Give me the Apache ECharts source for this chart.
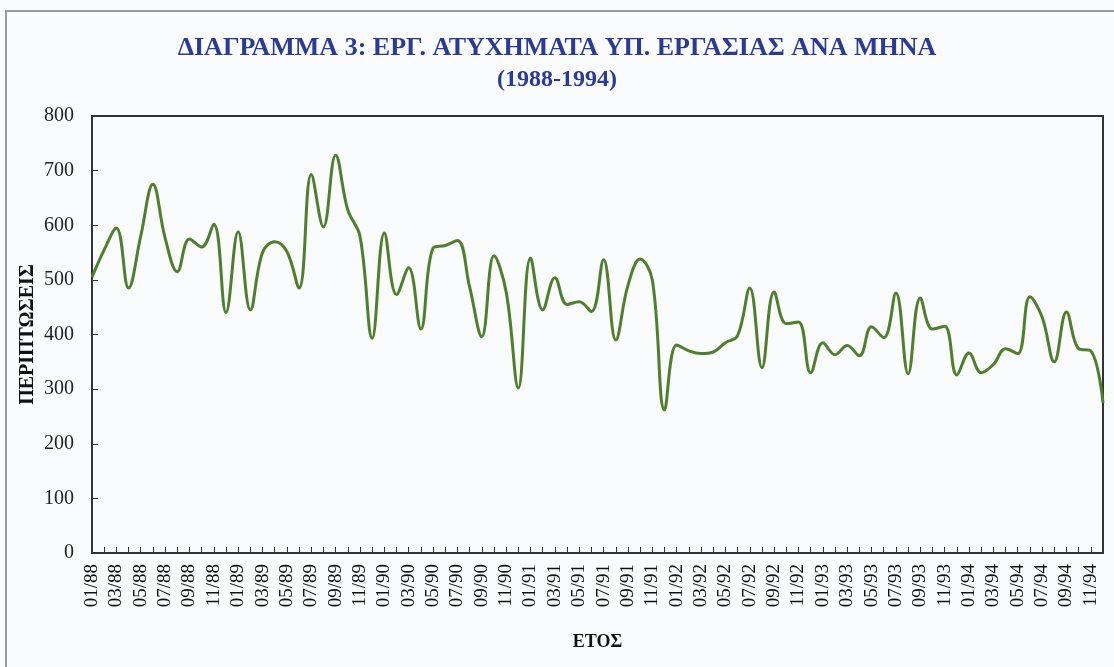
<!DOCTYPE html>
<html>
<head>
<meta charset="utf-8">
<script src="https://cdn.jsdelivr.net/npm/echarts@6/dist/echarts.min.js"></script>
<style>
html,body{margin:0;padding:0;background:#f9fbfc;}
#chart{width:1114px;height:667px;}
</style>
</head>
<body>
<div id="chart"></div>
<script>
const years = ['88','89','90','91','92','93','94'];
const categories = [];
years.forEach(function(y){ for (let m = 1; m <= 12; m++) categories.push((m < 10 ? '0' + m : '' + m) + '/' + y); });

const accidents = [
  505, 555, 595, 485, 580, 675, 577, 515, 575, 560, 602, 440,
  588, 445, 550, 570, 552, 485, 693, 597, 728, 628, 580, 393,
  586, 473, 522, 410, 558, 563, 572, 487, 396, 544, 478, 302,
  540, 445, 504, 455, 460, 442, 537, 390, 490, 538, 500, 262,
  381, 370, 365, 368, 385, 398, 485, 339, 478, 420, 423, 330,
  385, 363, 380, 361, 414, 394, 476, 328, 467, 410, 415, 326,
  366, 330, 345, 374, 365, 469, 432, 350, 441, 374, 370, 275
];

const titleText = 'ΔΙΑΓΡΑΜΜΑ 3: ΕΡΓ. ΑΤΥΧΗΜΑΤΑ ΥΠ. ΕΡΓΑΣΙΑΣ ΑΝΑ ΜΗΝΑ';
const subtitleText = '(1988-1994)';
const yName = 'ΠΕΡΙΠΤΩΣΕΙΣ';
const xName = 'ΕΤΟΣ';

const chart = echarts.init(document.getElementById('chart'));
chart.setOption({
  backgroundColor: '#f9fbfc',
  animation: false,
  title: {
    text: titleText,
    subtext: subtitleText,
    left: 'center',
    top: 30,
    itemGap: 7,
    textStyle: { fontFamily: 'Liberation Serif', fontWeight: 'bold', fontSize: 26, color: '#2b3a96' },
    subtextStyle: { fontFamily: 'Liberation Serif', fontWeight: 'bold', fontSize: 24, color: '#2b3a96' }
  },
  graphic: [{
    type: 'rect',
    shape: { x: 6, y: 11, width: 1200, height: 800 },
    style: { fill: 'none', stroke: '#9a9a9a', lineWidth: 2 },
    silent: true
  }],
  grid: { left: 92, right: 11, top: 116, bottom: 114, show: true, borderColor: '#333', borderWidth: 2, backgroundColor: 'transparent' },
  xAxis: {
    type: 'category',
    data: categories,
    boundaryGap: false,
    name: xName,
    nameLocation: 'middle',
    nameGap: 80,
    nameMoveOverlap: false,
    nameTextStyle: { fontFamily: 'Liberation Serif', fontWeight: 'bold', fontSize: 18, color: '#111' },
    axisLine: { lineStyle: { color: '#333', width: 2 } },
    axisTick: { inside: true, interval: 0, length: 6, lineStyle: { color: '#333' } },
    axisLabel: { interval: 1, rotate: 90, fontFamily: 'Liberation Serif', fontSize: 19, color: '#111', margin: 11 },
    splitLine: { show: false }
  },
  yAxis: {
    type: 'value',
    min: 0,
    max: 800,
    interval: 100,
    name: yName,
    nameLocation: 'middle',
    nameGap: 54,
    nameMoveOverlap: false,
    nameRotate: 90,
    nameTextStyle: { fontFamily: 'Liberation Serif', fontWeight: 'bold', fontSize: 20, color: '#111' },
    axisLine: { show: true, lineStyle: { color: '#333', width: 2 } },
    axisTick: { show: true, inside: true, length: 6, lineStyle: { color: '#333' } },
    axisLabel: { fontFamily: 'Liberation Serif', fontSize: 20, color: '#222', margin: 18 },
    splitLine: { show: false }
  },
  series: [{
    type: 'line',
    data: accidents,
    smooth: 0.4,
    symbol: 'none',
    lineStyle: { color: '#4f7f2c', width: 3 }
  }]
});
</script>
</body>
</html>
